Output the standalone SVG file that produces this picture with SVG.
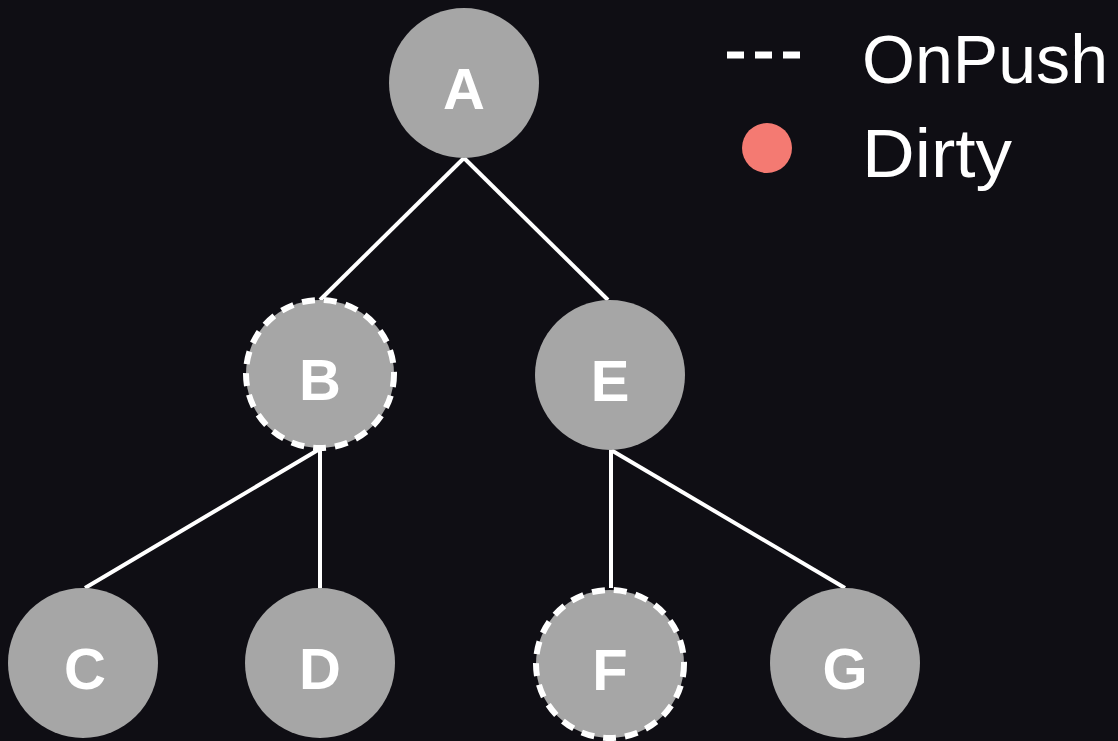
<svg xmlns="http://www.w3.org/2000/svg" width="1118" height="741" viewBox="0 0 1118 741">
<style>
.node{fill:#a6a6a6}
.onpush{fill:#a6a6a6;stroke:#ffffff;stroke-width:6;stroke-dasharray:13 9}
.lbl{font-family:"Liberation Sans",Arial,sans-serif;font-weight:bold;font-size:58px;fill:#ffffff;text-anchor:middle}
.edge{stroke:#ffffff;stroke-width:4;fill:none}
.leg{font-family:"Liberation Sans",Arial,sans-serif;font-size:68px;fill:#ffffff}
</style>
<rect x="0" y="0" width="1118" height="741" fill="#0f0e14"/>
<g id="connectors">
<line class="edge" x1="464" y1="158" x2="320" y2="300"/>
<line class="edge" x1="464" y1="158" x2="608" y2="300"/>
<line class="edge" x1="318" y1="450" x2="85" y2="588"/>
<line class="edge" x1="320" y1="450" x2="320" y2="588"/>
<line class="edge" x1="611" y1="450" x2="611" y2="588"/>
<line class="edge" x1="611" y1="450" x2="845" y2="588"/>
</g>
<g id="node-A"><circle class="node" cx="464" cy="83" r="75"/><text class="lbl" x="464" y="109">A</text></g>
<g id="node-B"><circle class="onpush" cx="320" cy="374" r="74"/><text class="lbl" x="320" y="400">B</text></g>
<g id="node-E"><circle class="node" cx="610" cy="375" r="75"/><text class="lbl" x="610" y="401">E</text></g>
<g id="node-C"><circle class="node" cx="83" cy="663" r="75"/><text class="lbl" x="85" y="689">C</text></g>
<g id="node-D"><circle class="node" cx="320" cy="663" r="75"/><text class="lbl" x="320" y="689">D</text></g>
<g id="node-F"><circle class="onpush" cx="610" cy="664" r="74"/><text class="lbl" x="610" y="690">F</text></g>
<g id="node-G"><circle class="node" cx="845" cy="663" r="75"/><text class="lbl" x="845" y="689">G</text></g>
<g id="legend">
<line x1="727" y1="55" x2="802" y2="55" stroke="#ffffff" stroke-width="7" stroke-dasharray="17 11"/>
<text class="leg" x="862" y="83" textLength="246" lengthAdjust="spacingAndGlyphs">OnPush</text>
<circle cx="767" cy="148" r="25" fill="#f47a72"/>
<text class="leg" x="862" y="177" textLength="150" lengthAdjust="spacingAndGlyphs">Dirty</text>
</g>
</svg>
